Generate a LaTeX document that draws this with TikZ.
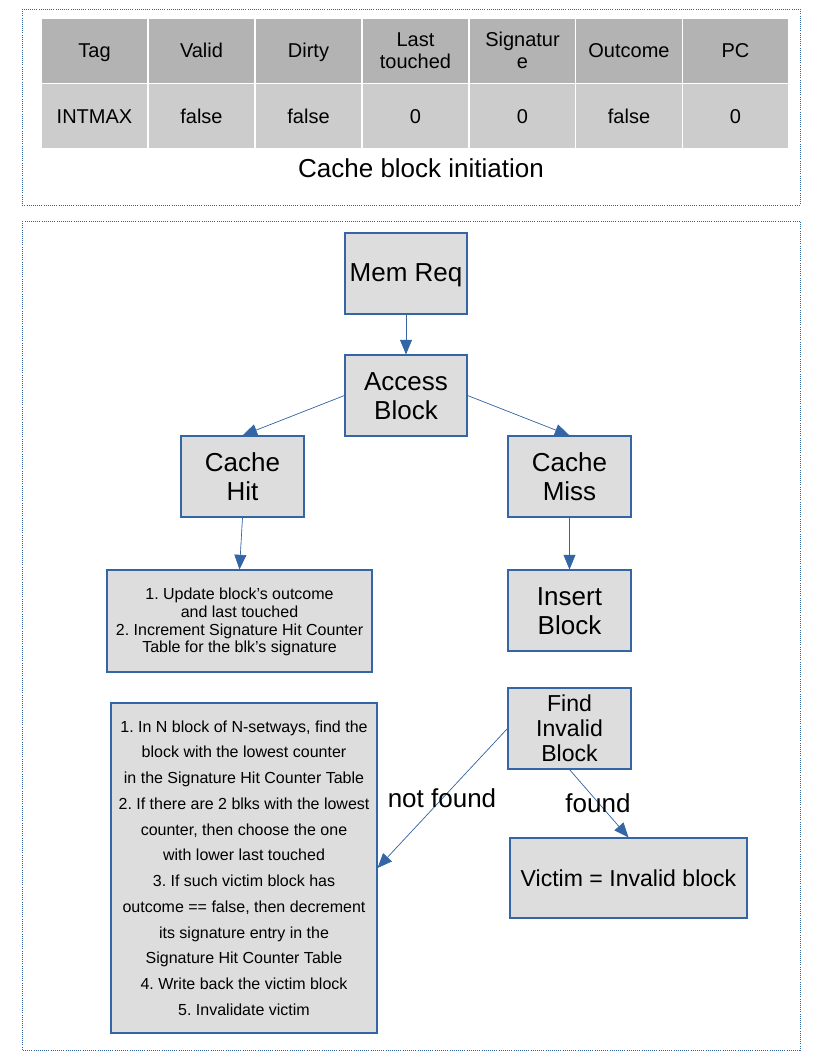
\documentclass[tikz,border=0pt]{standalone}
\usepackage{fontspec}
\setmainfont{Liberation Sans}
\usetikzlibrary{arrows.meta}
\definecolor{lblue}{HTML}{3465A4}
\definecolor{boxgray}{HTML}{DDDDDD}
\definecolor{hdrgray}{HTML}{B3B3B3}
\definecolor{datgray}{HTML}{CCCCCC}
\newcommand\ms{\rule[-0.15em]{0pt}{1em}}
\tikzset{
  frame/.style={draw=lblue, densely dotted, line width=0.6pt},
  cell/.style={draw=white, line width=0.9pt, minimum width=80pt, minimum height=48.5pt, inner sep=0pt, align=center, font=\fontsize{15}{16.5}\selectfont},
  hdr/.style={cell, fill=hdrgray},
  dat/.style={cell, fill=datgray},
  flowbox/.style={draw=lblue, fill=boxgray, line width=0.8pt, inner sep=0pt, align=center},
  big/.style={flowbox, font=\fontsize{19.5}{21.75}\selectfont},
  mid/.style={flowbox, font=\fontsize{17.3}{18.9}\selectfont},
  small/.style={flowbox, font=\fontsize{12}{13.3}\selectfont},
  conn/.style={draw=lblue, line width=0.5pt, -{Triangle[length=11pt,width=9pt]}, fill=lblue},
  lbl/.style={font=\fontsize{19.5}{21}\selectfont, inner sep=0pt}
}
\begin{document}
\frenchspacing
\begin{tikzpicture}[x=0.75pt,y=-0.75pt]
\useasboundingbox (0,0) rectangle (816,1056);
% top frame
\draw[frame] (22,9) rectangle (800,205);
\node[hdr] (h1) at (94.5,51) {Tag\ms};
\node[hdr] (h2) at (201.5,51) {Valid\ms};
\node[hdr] (h3) at (308.5,51) {Dirty\ms};
\node[hdr] (h4) at (415.5,51) {Last\ms\\touched\ms};
\node[hdr] (h5) at (522.5,51) {Signatur\ms\\e\ms};
\node[hdr] (h6) at (629,51) {Outcome\ms};
\node[hdr] (h7) at (735.5,51) {PC\ms};
\node[dat] (d1) at (94.5,116) {INTMAX\ms};
\node[dat] (d2) at (201.5,116) {false\ms};
\node[dat] (d3) at (308.5,116) {false\ms};
\node[dat] (d4) at (415.5,116) {0\ms};
\node[dat] (d5) at (522.5,116) {0\ms};
\node[dat] (d6) at (629,116) {false\ms};
\node[dat] (d7) at (735.5,116) {0\ms};
\node[lbl] (cap) at (421,168) {Cache block initiation\ms};
% bottom frame
\draw[frame] (22,221) rectangle (800,1050);
\node[big, minimum width=91.5pt, minimum height=60.75pt] (mem) at (406,273.5) {Mem Req\ms};
\node[big, minimum width=91.5pt, minimum height=60.75pt] (access) at (406,395.5) {Access\ms\\Block\ms};
\node[big, minimum width=92.25pt, minimum height=60.75pt] (hit) at (242.5,476.5) {Cache\ms\\Hit\ms};
\node[big, minimum width=92.25pt, minimum height=60.75pt] (miss) at (569.5,476.5) {Cache\ms\\Miss\ms};
\node[small, minimum width=198.75pt, minimum height=76.5pt] (hittxt) at (239.5,621) {1. Update block's outcome\ms\\and last touched\ms\\2. Increment Signature Hit Counter\ms\\Table for the blk's signature\ms};
\node[big, minimum width=92.25pt, minimum height=60.75pt] (insert) at (569.5,610.5) {Insert\ms\\Block\ms};
\node[mid, minimum width=92.25pt, minimum height=60.75pt] (find) at (569.5,728.5) {Find\ms\\Invalid\ms\\Block\ms};
\node[mid, minimum width=177.75pt, minimum height=60pt] (victim) at (628.5,878) {Victim = Invalid block\ms};
\node[flowbox, font=\fontsize{12}{19.3}\selectfont, minimum width=199.5pt, minimum height=247.5pt] (evict) at (244,868) {1. In N block of N-setways, find the\\block with the lowest counter\\in the Signature Hit Counter Table\\2. If there are 2 blks with the lowest\\counter, then choose the one\\with lower last touched\\3. If such victim block has\\outcome == false, then decrement\\its signature entry in the\\Signature Hit Counter Table\\4. Write back the victim block\\5. Invalidate victim};
% connectors
\draw[conn] (mem.south) -- (access.north);
\draw[conn] (access.west) -- (hit.north);
\draw[conn] (access.east) -- (miss.north);
\draw[conn] (hit.south) -- (hittxt.north);
\draw[conn] (miss.south) -- (insert.north);
\draw[conn] (find.west) -- (evict.east);
\draw[conn] (find.south) -- (victim.north);
\node[lbl] (nf) at (442,798) {not found\ms};
\node[lbl] (fd) at (598,803) {found\ms};
\end{tikzpicture}
\end{document}
